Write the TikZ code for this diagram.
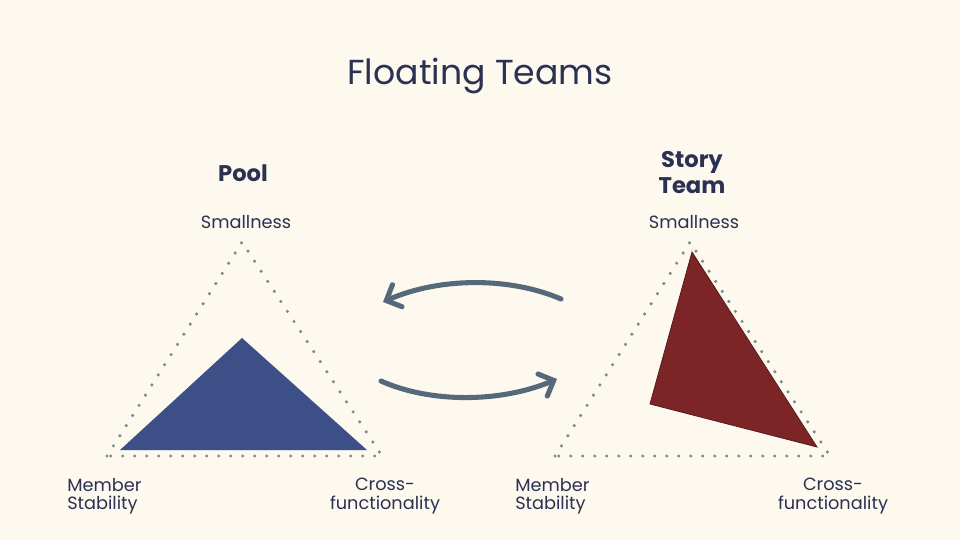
\documentclass[tikz,border=0pt]{standalone}
\usepackage{fontspec}
\setmainfont{Poppins}
\usetikzlibrary{arrows.meta}
\definecolor{paper}{HTML}{FDF9EE}
\definecolor{ink}{HTML}{2A3152}
\definecolor{poolblue}{HTML}{3D4F87}
\definecolor{storyred}{HTML}{7C2527}
\definecolor{dotgrey}{HTML}{7C8B90}
\definecolor{arrowgrey}{HTML}{56697A}

\begin{document}
\begin{tikzpicture}[x=0.75pt,y=-0.75pt]
  \tikzstyle{axis}=[text=ink,font=\fontsize{13.3}{13.8}\selectfont,inner sep=0pt]
  \tikzstyle{head}=[text=ink,font=\fontsize{17}{19.5}\selectfont\bfseries,inner sep=0pt,align=center]
  \tikzstyle{frame}=[dotgrey,line width=2.6pt,line cap=round,dash pattern=on 0pt off 9pt]
  \tikzstyle{swaparrow}=[draw=arrowgrey,line width=3.8pt,line cap=round,-{Straight Barb[length=9pt,width=18pt,line cap=round]}]
  \useasboundingbox (0,0) rectangle (960,540);
  \fill[paper] (0,0) rectangle (960,540);
  \node[text=ink,font=\fontsize{26}{30}\selectfont] (title) at (480,76) {Floating Teams};
  % the two triangles: pool on the left, story team on the right
  \foreach \n/\x in {pool/0,story/448} {
    \coordinate (\n-top) at (242+\x,242);
    \coordinate (\n-left) at (107+\x,456);
    \coordinate (\n-right) at (382+\x,456);
    \node[axis,anchor=south] (\n-small) at (246+\x,229) {Smallness};
    \node[axis,anchor=north west,align=left] (\n-member) at (67+\x,478) {Member\\Stability};
    \node[axis,anchor=north,align=center] (\n-cross) at (385+\x,478) {Cross-\\functionality};
  }
  \node[head] (pool-name) at (243,173) {Pool};
  \node[head] (story-name) at (692,173) {Story\\Team};
  \fill[poolblue] (120,450) -- (242,338) -- (367,450) -- cycle;
  \filldraw[fill=storyred,draw=storyred!70!black,line width=0.6pt] (692,252) -- (650,404) -- (817,447) -- cycle;
  \draw[frame] (pool-left) -- (pool-top) -- (pool-right) -- cycle;
  \draw[frame] (story-left) -- (story-top) -- (story-right) -- cycle;
  % swap arrows between the teams
  \coordinate (back-from) at (561,299);
  \coordinate (back-to) at (383,302);
  \coordinate (over-from) at (381,381);
  \coordinate (over-to) at (557,379);
  \draw[swaparrow] (back-from) .. controls (510,277) and (440,277) .. (back-to);
  \draw[swaparrow] (over-from) .. controls (430,403) and (500,403) .. (over-to);
\end{tikzpicture}
\end{document}
